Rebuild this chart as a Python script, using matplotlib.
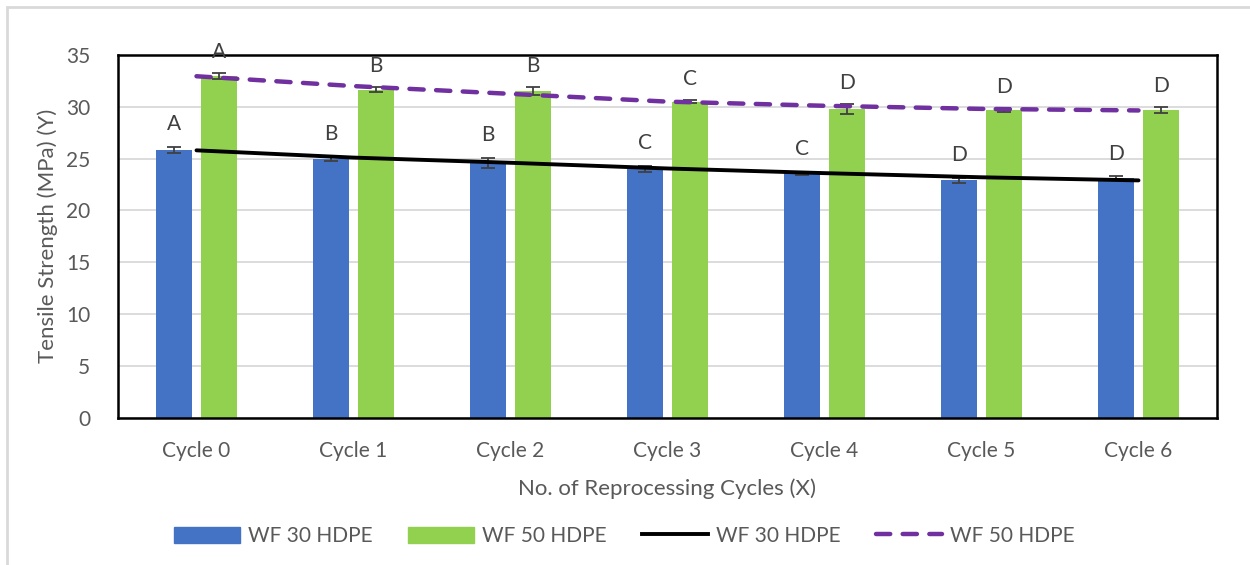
import numpy as np
import matplotlib
matplotlib.use("Agg")
import matplotlib.pyplot as plt
from matplotlib.patches import Rectangle
from matplotlib.lines import Line2D

plt.rcParams['font.family'] = ['Lato', 'DejaVu Sans']

# ─── Data ────────────────────────────────────────────────────────────────
cycles = ["Cycle 0", "Cycle 1", "Cycle 2", "Cycle 3", "Cycle 4", "Cycle 5", "Cycle 6"]
wf30 = [25.85, 25.0, 24.6, 24.0, 23.6, 22.9, 23.15]
wf30_err = [0.3, 0.2, 0.5, 0.3, 0.15, 0.25, 0.15]
wf50 = [32.95, 31.65, 31.5, 30.5, 29.8, 29.7, 29.7]
wf50_err = [0.3, 0.25, 0.4, 0.15, 0.5, 0.2, 0.25]
wf30_letters = ["A", "B", "B", "C", "C", "D", "D"]
wf50_letters = ["A", "B", "B", "C", "D", "D", "D"]
# trendline values read at each category
wf30_trend = [25.8, 25.1, 24.6, 24.05, 23.6, 23.2, 22.9]
wf50_trend = [32.95, 32.0, 31.25, 30.5, 30.1, 29.8, 29.65]

BLUE = "#4472C4"
GREEN = "#92D050"
PURPLE = "#7030A0"
GREY = "#595959"

fig = plt.figure(figsize=(12.5, 5.65), dpi=100)
W, H = 1250, 565
ax = fig.add_axes([118 / W, 1 - 417.7 / H, (1217 - 118) / W, (417.7 - 55) / H])

# chart area border (only left/top visible in the crop)
fig.patches.append(Rectangle((7 / W, -0.1), 1.2, 1 - 7 / H + 0.1, transform=fig.transFigure,
                             fill=False, edgecolor="#d9d9d9", linewidth=2))

x = np.arange(len(cycles))
off = 0.143
bw = 0.23
errkw = dict(ecolor="#404040", elinewidth=1.3, capsize=5, capthick=1.3)
ax.bar(x - off, wf30, bw, color=BLUE, yerr=wf30_err, error_kw=errkw, zorder=2)
ax.bar(x + off, wf50, bw, color=GREEN, yerr=wf50_err, error_kw=errkw, zorder=2)

ax.plot(x, wf30_trend, color="black", lw=2.8, solid_capstyle="round", zorder=3)
ax.plot(x, wf50_trend, color=PURPLE, lw=3.2, ls=(0, (3.2, 2.8)),
        dash_capstyle="round", zorder=3)

for xi, v, e, t in zip(x - off, wf30, wf30_err, wf30_letters):
    ax.annotate(t, (xi, v + e), xytext=(0, 9), textcoords="offset points",
                ha="center", va="bottom", fontsize=15, color="#404040")
for xi, v, e, t in zip(x + off, wf50, wf50_err, wf50_letters):
    ax.annotate(t, (xi, v + e), xytext=(0, 8), textcoords="offset points",
                ha="center", va="bottom", fontsize=15, color="#404040",
                annotation_clip=False)

ax.set_xlim(-0.5, len(cycles) - 0.5)
ax.set_ylim(0, 35)
ax.set_yticks(range(0, 36, 5))
ax.set_xticks(x)
ax.set_xticklabels(cycles)
ax.yaxis.grid(True, color="#d9d9d9", lw=1.3, zorder=0)
ax.set_axisbelow(True)
for s in ax.spines.values():
    s.set_color("black")
    s.set_linewidth(1.8)
ax.tick_params(length=0, labelsize=15, colors=GREY)
ax.tick_params(axis="y", pad=20)
ax.tick_params(axis="x", pad=17)
ax.set_ylabel("Tensile Strength (MPa) (Y)", fontsize=16, color=GREY, labelpad=6)
ax.set_xlabel("No. of Reprocessing Cycles (X)", fontsize=16, color=GREY, labelpad=12)

handles = [
    Rectangle((0, 0), 1, 1, color=BLUE),
    Rectangle((0, 0), 1, 1, color=GREEN),
    Line2D([], [], color="black", lw=2.8),
    Line2D([], [], color=PURPLE, lw=3.2, ls=(0, (3.2, 2.8)), dash_capstyle="round"),
]
labels = ["WF 30 HDPE", "WF 50 HDPE", "WF 30 HDPE", "WF 50 HDPE"]
fig.legend(handles, labels, loc="center", bbox_to_anchor=(624 / W, 1 - 536 / H),
           ncol=4, frameon=False, fontsize=15, labelcolor=GREY,
           handlelength=3.2, handleheight=0.8, handletextpad=0.35, columnspacing=1.7)

fig.savefig("out.png", dpi=100)
